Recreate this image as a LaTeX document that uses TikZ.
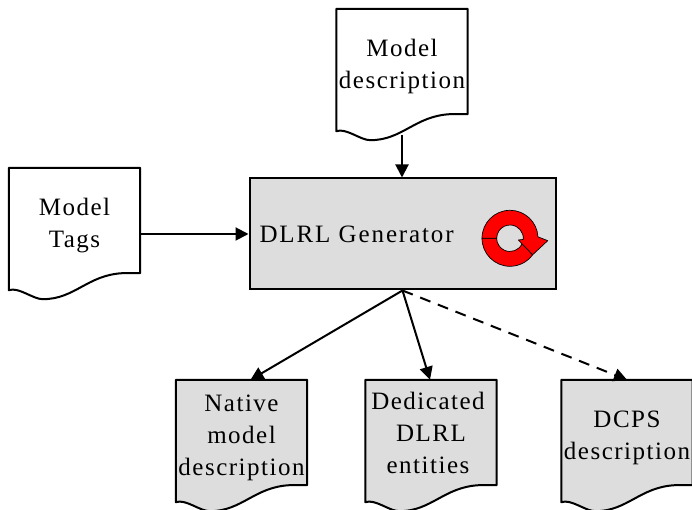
\documentclass[tikz,border=0pt]{standalone}
\usepackage{fontspec}
\setmainfont[LetterSpace=6]{Liberation Serif}
\usetikzlibrary{arrows.meta,backgrounds}
\definecolor{boxgray}{HTML}{DDDDDD}
\newcommand{\docsheet}[2]{%
  \draw[doc line,fill=#2] (#1.north west) -- (#1.north east) -- ([yshift=10]#1.south east) -- ++(-18,0)
    .. controls ++(-35,-2) and ++(32,0) .. ([xshift=34,yshift=-16]#1.south west)
    .. controls ++(-10,0) and ++(10,3.5) .. ([yshift=-7]#1.south west) -- cycle;}
\begin{document}
\begin{tikzpicture}[x=1pt,y=1pt,>={Stealth[length=13pt,width=13pt,inset=0pt]},node distance=189.5pt,
                    doc line/.style={line width=2pt,line join=round},
                    doc node/.style={minimum width=131pt,minimum height=115pt,inner sep=0pt,align=center,
                                     font=\fontsize{25}{32}\selectfont},
                    main arrow/.style={->,line width=2pt}]
  \useasboundingbox (0,0) rectangle (692,510);
  \clip (0,0) rectangle (692,510);

  \node[doc node] (description) at (402,443.5) {Model\\description};
  \node[doc node] (tags) at (74.5,284.5) {Model\\Tags};
  \node[draw,line width=2pt,fill=boxgray,minimum width=306pt,minimum height=111pt,inner sep=0pt,
        anchor=north west,text width=286pt,align=left,font=\fontsize{25}{32}\selectfont\addfontfeature{LetterSpace=7.5}]
        (generator) at (248.5,332.5) {DLRL Generator};
  \node[doc node] (native) at (241.5,72.5) {Native\\model\\description};
  \node[doc node] (dedicated) [right of=native] {Dedicated\hspace*{6pt}\\DLRL\hspace*{6pt}\\entities\hspace*{6pt}\strut};
  \node[doc node] (dcps) [right of=dedicated,node distance=196pt] {DCPS\\description};

  \begin{scope}[on background layer]
    \docsheet{description}{white}
    \docsheet{tags}{white}
    \docsheet{native}{boxgray}
    \docsheet{dedicated}{boxgray}
    \docsheet{dcps}{boxgray}
  \end{scope}

  \coordinate (tags out) at ([yshift=-8.5]tags.east);
  \draw[main arrow] ([yshift=-11]description.south) -- (generator.north -| description.south);
  \draw[main arrow] (tags out) -- (generator.west |- tags out);
  \path[main arrow]
    (generator.south) edge ([xshift=9]native.north)
    (generator.south) edge ([xshift=-1]dedicated.north)
    (generator.south) edge[dash pattern=on 11pt off 8pt] (dcps.north);

  % red circular arrow
  \begin{scope}[shift={(510,271.7)},fill=red,line width=0.7pt,line join=round]
    \filldraw (180:28) arc[start angle=180,end angle=324,radius=28] -- (12,-5.5)
      arc[start angle=-25,end angle=-180,radius=13.3] -- cycle;
    \filldraw (180:28) arc[start angle=180,end angle=3,radius=28] -- (37.7,-2.4) -- (324:28)
      -- (8.3,-1.7) -- (-5:13.3) arc[start angle=-5,end angle=180,radius=13.3] -- cycle;
  \end{scope}
\end{tikzpicture}
\end{document}
